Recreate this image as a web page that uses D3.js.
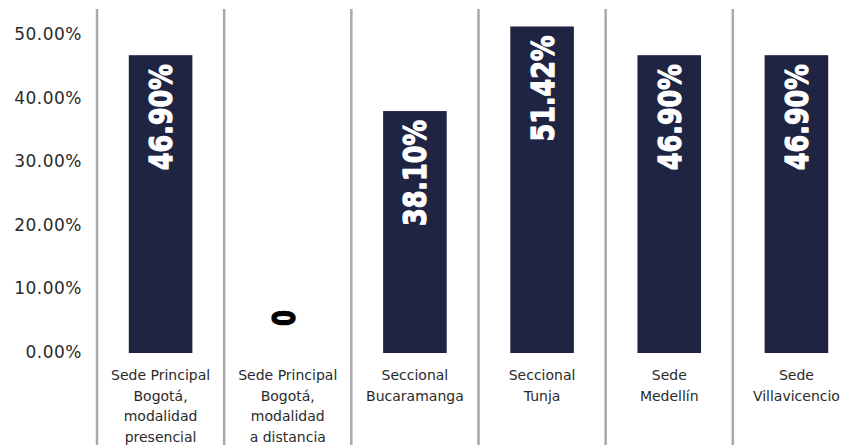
<!DOCTYPE html>
<html>
<head>
<meta charset="utf-8">
<script src="https://cdn.jsdelivr.net/npm/d3@7"></script>
<style>
  html, body { margin: 0; padding: 0; background: #ffffff; }
  svg { display: block; }
</style>
</head>
<body>
<svg id="chart" width="857" height="445"></svg>
<script>
const categories = [
  "Sede Principal Bogotá, modalidad presencial",
  "Sede Principal Bogotá, modalidad a distancia",
  "Seccional Bucaramanga",
  "Seccional Tunja",
  "Sede Medellín",
  "Sede Villavicencio"
];
const categoryLines = [
  ["Sede Principal", "Bogotá,", "modalidad", "presencial"],
  ["Sede Principal", "Bogotá,", "modalidad", "a distancia"],
  ["Seccional", "Bucaramanga"],
  ["Seccional", "Tunja"],
  ["Sede", "Medellín"],
  ["Sede", "Villavicencio"]
];
const values = [0.469, 0, 0.381, 0.5142, 0.469, 0.469];
const yTicks = [0, 0.1, 0.2, 0.3, 0.4, 0.5];

const svg = d3.select("#chart");
const x = d3.scaleBand().domain(categories).range([97, 860]).padding(0);
const y = d3.scaleLinear().domain([0, 0.5]).range([353, 35.5]);
const barW = x.bandwidth() * 0.5;
const fmt = d3.format(".2%");

// separators
svg.append("g").selectAll("line").data(categories).join("line")
  .attr("x1", d => x(d)).attr("x2", d => x(d))
  .attr("y1", 9).attr("y2", 445)
  .attr("stroke", "#a9a9a9").attr("stroke-width", 2.5);

// y axis
const yAxis = svg.append("g")
  .attr("transform", "translate(82,0)")
  .call(d3.axisLeft(y).tickValues(yTicks).tickFormat(fmt).tickSize(0).tickPadding(0));
yAxis.select(".domain").remove();
yAxis.selectAll("text")
  .attr("font-family", "DejaVu Sans")
  .attr("font-size", "17px")
  .attr("letter-spacing", "0.5px")
  .attr("fill", "#2a2a2a")
  .attr("dy", "0.25em");

// bars
svg.append("g").selectAll("rect").data(values).join("rect")
  .attr("x", (d, i) => x(categories[i]) + (x.bandwidth() - barW) / 2)
  .attr("y", d => y(d))
  .attr("width", barW)
  .attr("height", d => y(0) - y(d))
  .attr("fill", "#1e2442");

// value labels
svg.append("g").selectAll("text").data(values).join("text")
  .attr("transform", (d, i) => {
    const cx = x(categories[i]) + x.bandwidth() / 2;
    const yy = d > 0 ? y(d) + 9 : y(0) - 27;
    return `translate(${cx},${yy}) rotate(-90)`;
  })
  .attr("text-anchor", d => d > 0 ? "end" : "start")
  .attr("dy", d => d > 0 ? "0.36em" : "0.24em")
  .attr("font-family", "DejaVu Sans")
  .attr("font-weight", 700)
  .attr("font-size", "32px")
  .attr("textLength", d => d > 0 ? 106 : 16)
  .attr("lengthAdjust", "spacingAndGlyphs")
  .attr("fill", d => d > 0 ? "#ffffff" : "#000000")
  .attr("stroke", d => d > 0 ? "#ffffff" : "#000000")
  .attr("stroke-width", 1.3)
  .attr("stroke-linejoin", "round")
  .text(d => d > 0 ? fmt(d) : "0");

// category labels
const cat = svg.append("g").selectAll("text").data(categories).join("text")
  .attr("x", d => x(d) + x.bandwidth() / 2)
  .attr("y", 380)
  .attr("text-anchor", "middle")
  .attr("font-family", "DejaVu Sans")
  .attr("font-size", "14px")
  .attr("fill", "#2a2a2a");
cat.each(function(d, i) {
  d3.select(this).selectAll("tspan").data(categoryLines[i]).join("tspan")
    .attr("x", x(d) + x.bandwidth() / 2)
    .attr("dy", (t, j) => j === 0 ? 0 : 20.5)
    .text(t => t);
});
</script>
</body>
</html>
